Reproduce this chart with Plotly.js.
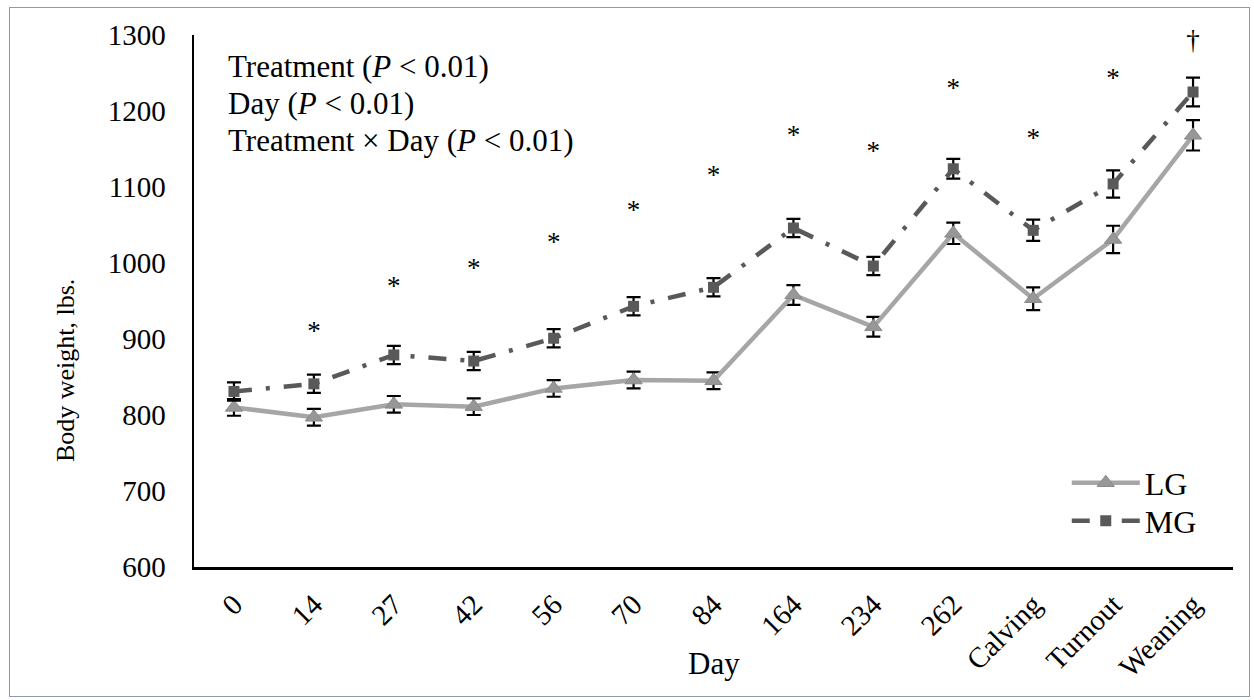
<!DOCTYPE html>
<html>
<head>
<meta charset="utf-8">
<script src="https://cdn.plot.ly/plotly-3.0.1.min.js"></script>
<style>
html,body{margin:0;padding:0;background:#fff;}
#frame{position:absolute;left:9px;top:7px;width:1241px;height:690px;border:1px solid #8a9bb0;box-sizing:border-box;}
#chart{position:absolute;left:0;top:0;width:1254px;height:700px;}
</style>
</head>
<body>
<div id="frame"></div>
<div id="chart"></div>
<script>
const days = ["0","14","27","42","56","70","84","164","234","262","Calving","Turnout","Weaning"];
const lgWeight = [810,797,814,811,835,846,845,958,916,1039,953,1031,1168];
const lgErr = [11,11,11,11,11,11,11,13,13,14,15,18,20];
const mgWeight = [831,841,879,871,901,943,968,1046,996,1124,1043,1104,1225];
const mgErr = [12,12,12,12,12,12,12,12,12,13,14,18,19];
const sigLabels = ["","*","*","*","*","*","*","*","*","*","*","*","†"];
const sigY = [null,908,967,990,1025,1067,1113,1166,1144,1227,1162,1240,1290];
const statLines = ["Treatment (<i>P</i> < 0.01)", "Day (<i>P</i> < 0.01)", "Treatment × Day (<i>P</i> < 0.01)"];
const xTitle = "Day";
const yTitle = "Body weight, lbs.";

const font = "Liberation Serif, Times New Roman, serif";

const traces = [
  {
    x: days, y: lgWeight, name: "LG", type: "scatter", mode: "lines+markers", legend: "legend",
    line: {color: "#a6a6a6", width: 4.5},
    marker: {symbol: "triangle-up", size: 15, color: "#979797", line: {color: "#8a8a8a", width: 1}},
    error_y: {type: "data", array: lgErr, visible: true, color: "#000", thickness: 2.2, width: 7}
  },
  {
    x: days, y: mgWeight, name: "MG", type: "scatter", mode: "lines+markers", legend: "legend2",
    line: {color: "#595959", width: 4.5, dash: "18px,14px,4px,14px"},
    marker: {symbol: "square", size: 11, color: "#595959"},
    error_y: {type: "data", array: mgErr, visible: true, color: "#000", thickness: 2.2, width: 7}
  },
  {
    x: days, y: sigY, text: sigLabels, type: "scatter", mode: "text",
    textfont: {family: font, size: 27, color: "#000"}, showlegend: false, hoverinfo: "skip",
    cliponaxis: false
  }
];

const statY = [0.940, 0.871, 0.801];
const annotations = statLines.map((t, i) => ({
  xref: "paper", yref: "paper", x: 0.031, y: statY[i], xanchor: "left", yanchor: "middle", align: "left",
  showarrow: false, font: {family: font, size: 31, color: "#000"}, text: t
}));
annotations.push({
  xref: "paper", yref: "paper", x: 0.5, y: -0.1823, xanchor: "center", yanchor: "middle",
  showarrow: false, font: {family: font, size: 31, color: "#000"}, text: xTitle
});
annotations.push({
  xref: "paper", yref: "paper", x: -0.1242, y: 0.37, xanchor: "center", yanchor: "middle", textangle: -90,
  showarrow: false, font: {family: font, size: 26, color: "#000"}, text: yTitle
});

const legendFont = {family: font, size: 32, color: "#000"};
const layout = {
  width: 1254, height: 700,
  paper_bgcolor: "rgba(0,0,0,0)", plot_bgcolor: "#fff",
  margin: {l: 194, r: 21, t: 35, b: 133},
  font: {family: font, size: 30, color: "#000"},
  showlegend: true,
  legend: {x: 0.840, y: 0.158, xanchor: "left", yanchor: "middle", bgcolor: "rgba(0,0,0,0)",
           font: legendFont, itemwidth: 68, tracegroupgap: 0},
  legend2: {x: 0.840, y: 0.0865, xanchor: "left", yanchor: "middle", bgcolor: "rgba(0,0,0,0)",
           font: legendFont, itemwidth: 68, tracegroupgap: 0},
  xaxis: {
    type: "category", showline: true, linecolor: "#000", linewidth: 3,
    showgrid: false, zeroline: false, ticks: "", tickangle: -45,
    tickfont: {family: font, size: 29}, ticklabelstandoff: 6,
    range: [-0.5, 12.5]
  },
  yaxis: {
    range: [600, 1300], dtick: 100, tick0: 600, showline: true, linecolor: "#000", linewidth: 2.5,
    showgrid: false, zeroline: false, ticks: "", ticklabelstandoff: 20,
    tickfont: {family: font, size: 29}
  },
  annotations: annotations
};

Plotly.newPlot("chart", traces, layout, {displayModeBar: false, staticPlot: true});
</script>
</body>
</html>
